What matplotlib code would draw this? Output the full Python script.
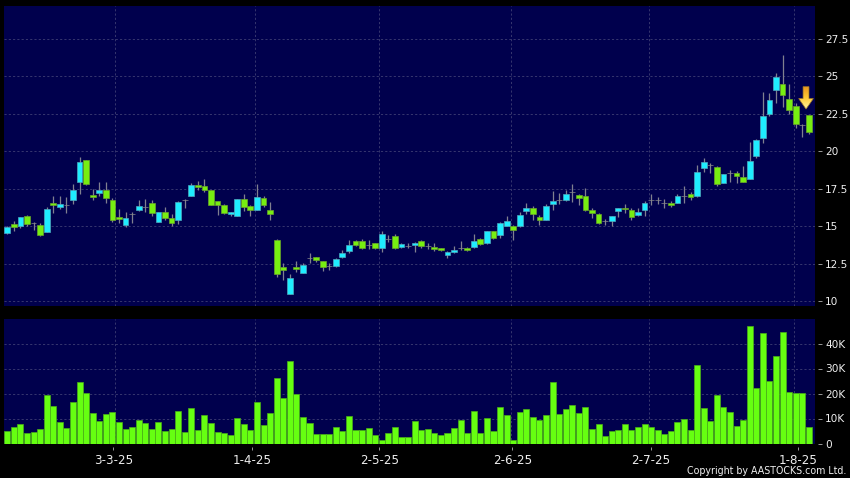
import matplotlib
matplotlib.use("Agg")
import matplotlib.pyplot as plt
from matplotlib.colors import LinearSegmentedColormap
from matplotlib.patches import Polygon
import numpy as np

open_ = [14.51,15.13,15.00,15.67,15.20,15.04,14.60,16.51,16.27,16.40,
         16.71,17.93,19.40,17.07,17.20,17.40,16.73,15.58,15.04,15.82,
         16.07,16.27,16.51,15.27,15.91,15.53,15.40,16.71,17.00,17.71,
         17.64,17.40,16.64,16.40,15.80,15.67,16.78,16.31,16.07,16.87,
         16.07,14.09,12.27,10.44,12.27,11.84,12.84,12.93,12.67,12.31,
         12.31,12.91,13.31,13.98,13.98,13.76,13.84,13.53,14.16,14.33,
         13.60,13.69,13.73,14.00,13.67,13.60,13.53,13.04,13.24,13.56,
         13.53,13.58,14.13,13.84,14.64,14.38,15.02,15.00,14.98,15.98,
         16.20,15.60,15.40,16.50,16.76,16.72,17.29,17.05,16.98,16.06,
         15.79,15.37,15.33,15.99,16.23,16.10,15.73,16.10,16.72,16.72,
         16.56,16.56,16.56,17.03,17.11,16.98,18.90,19.05,18.94,17.89,
         18.52,18.55,18.30,18.17,19.69,20.88,22.47,24.05,24.49,23.50,
         22.97,21.74,22.40]
close = [14.93,14.93,15.58,15.13,15.20,14.38,16.13,16.38,16.44,16.40,
         17.40,19.27,17.80,16.91,17.40,16.84,15.40,15.44,15.53,15.82,
         16.33,16.27,15.87,15.91,15.53,15.18,16.60,16.71,17.73,17.60,
         17.42,16.40,16.40,15.87,15.91,16.80,16.27,16.07,16.91,16.38,
         15.78,11.80,12.04,11.53,12.11,12.40,12.84,12.76,12.24,12.31,
         12.80,13.20,13.73,13.71,13.53,13.76,13.53,14.47,14.16,13.56,
         13.80,13.69,13.87,13.64,13.67,13.47,13.40,13.27,13.42,13.56,
         13.38,14.00,13.78,14.67,14.18,15.20,15.36,14.71,15.73,16.22,
         15.78,15.38,16.36,16.65,16.76,17.11,17.29,16.85,16.06,15.86,
         15.20,15.37,15.64,16.19,16.12,15.59,15.93,16.56,16.72,16.72,
         16.56,16.43,17.03,17.03,16.92,18.63,19.30,19.05,17.78,18.44,
         18.52,18.35,17.95,19.36,20.75,22.31,23.39,24.91,23.72,22.73,
         21.81,21.74,21.26]
high = [15.02,15.33,15.60,15.73,15.24,15.20,16.27,17.02,17.02,16.93,
        17.80,19.60,19.40,17.47,17.93,17.96,16.87,16.13,15.91,15.91,
        16.76,16.82,16.73,15.91,16.27,15.82,16.67,16.80,17.87,18.02,
        18.13,17.40,16.69,16.47,15.96,16.80,17.13,16.40,17.80,17.00,
        16.62,14.13,12.53,11.82,12.67,12.51,13.20,12.93,12.67,12.53,
        12.84,13.42,14.09,14.04,14.13,14.09,13.87,14.69,14.38,14.49,
        13.87,13.84,13.93,14.04,13.87,13.89,13.56,13.33,13.67,14.02,
        13.60,14.47,14.20,14.69,14.69,15.24,15.69,15.04,15.93,16.56,
        16.33,15.73,16.49,17.33,17.18,17.40,17.80,17.11,17.51,16.23,
        15.86,15.46,15.68,16.23,16.48,16.20,16.23,16.65,17.11,16.96,
        16.78,16.65,17.16,17.67,17.27,19.05,19.52,19.18,18.99,18.50,
        18.72,18.68,19.03,20.57,20.81,23.94,23.90,25.18,26.37,24.45,
        23.22,21.80,22.42]
low = [14.49,14.69,14.84,14.98,14.76,14.31,14.58,15.87,16.13,15.87,
       16.44,17.11,17.71,16.71,16.98,16.51,15.24,15.20,14.91,15.18,
       16.02,15.96,15.64,15.24,15.38,14.98,15.11,16.22,16.98,17.38,
       17.24,16.38,15.76,15.82,15.64,15.64,15.98,15.64,16.07,16.27,
       15.38,11.58,11.38,10.44,11.91,11.84,12.53,12.58,12.02,12.09,
       12.27,12.89,13.20,13.69,13.49,13.49,13.47,13.24,13.96,13.49,
       13.56,13.51,13.29,13.51,13.49,13.36,13.33,12.84,13.22,13.40,
       13.31,13.53,13.73,13.82,14.11,14.22,15.00,14.09,14.96,15.78,
       15.42,15.09,15.38,16.08,16.50,16.70,16.63,16.41,16.01,15.55,
       15.15,15.09,14.98,15.62,15.84,15.40,15.64,15.68,16.41,16.48,
       16.17,16.26,16.52,16.56,16.76,16.96,18.59,18.55,17.69,17.84,
       17.97,17.84,17.91,18.15,19.54,20.53,22.31,23.17,22.97,22.49,
       21.52,20.93,21.12]
# volume in thousands
volume = [5.2,6.8,8.0,4.1,4.5,5.7,19.6,15.1,8.7,6.4,
          16.7,24.5,20.1,12.1,9.1,12.0,12.8,8.5,5.9,6.7,
          9.5,8.1,6.0,8.7,4.9,5.7,12.9,4.5,14.4,5.5,
          11.5,8.4,4.8,4.4,3.6,10.4,7.7,5.3,16.8,7.3,
          12.1,26.4,18.1,33.1,20.0,10.7,8.1,3.7,4.0,3.9,
          6.8,5.2,11.2,5.3,5.3,6.1,3.6,1.6,4.1,6.5,
          2.7,2.5,8.9,5.6,5.9,4.3,3.6,4.1,6.1,9.6,
          4.1,13.2,4.1,10.1,5.1,14.7,11.6,1.6,12.8,13.9,
          10.8,9.3,11.6,24.7,12.0,13.7,15.3,12.1,14.7,5.7,
          7.9,3.2,5.1,5.6,8.0,5.6,6.8,7.9,6.5,5.3,
          4.0,5.2,8.5,9.9,5.6,31.5,14.4,8.9,19.6,14.8,
          12.5,7.1,9.3,47.2,22.3,44.4,25.1,35.2,44.5,20.7,
          20.3,20.3,6.7]

date_labels = ["3-3-25", "1-4-25", "2-5-25", "2-6-25", "2-7-25", "1-8-25"]
date_ticks = [16.13, 37.29, 56.6, 76.85, 98.0, 120.4]
date_grid = [16.47, 37.63, 56.62, 76.7, 97.7, 119.8]
price_ticks = [10, 12.5, 15, 17.5, 20, 22.5, 25, 27.5]
price_labels = ["10", "12.5", "15", "17.5", "20", "22.5", "25", "27.5"]
vol_ticks = [0, 10, 20, 30, 40]
vol_labels = ["0", "10K", "20K", "30K", "40K"]

W, H = 850, 478
BG = "#00004d"
GRID = "#36366f"
DASH = (0, (2.2, 2.2))
CYAN = "#1fecff"
GREEN = "#77ee11"

fig = plt.figure(figsize=(W / 100, H / 100), dpi=100, facecolor="black")
ax1 = fig.add_axes([4 / W, 1 - 306 / H, 810.5 / W, 300 / H])
ax2 = fig.add_axes([4 / W, 1 - 443.5 / H, 810.5 / W, 124.5 / H])

for ax in (ax1, ax2):
    ax.set_facecolor(BG)
    ax.set_xlim(-0.5, 122.86)
    for s in ["top", "left", "bottom"]:
        ax.spines[s].set_visible(False)
    ax.spines["right"].set_position(("outward", 2.2))
    ax.spines["right"].set_visible(False)
    ax.yaxis.tick_right()
    ax.tick_params(axis="y", length=3, width=0.7, color="#999999", labelcolor="#eeeeee", labelsize=7.6, pad=2.5)
    for gx in date_grid:
        ax.axvline(gx, color=GRID, lw=0.7, ls=DASH, zorder=1)
    ax.set_axisbelow(True)

o = np.array(open_)
c = np.array(close)
x = np.arange(len(o))
colors = [CYAN if b > a else GREEN if b < a else "#888888" for a, b in zip(o, c)]
edges = ["#4fa9bd" if b > a else "#6aa52a" if b < a else "#8a8a8a" for a, b in zip(o, c)]

ax1.set_ylim(9.67, 29.67)
ax1.set_yticks(price_ticks)
ax1.set_yticklabels(price_labels)
ax1.set_xticks([])
ax1.grid(axis="y", color=GRID, lw=0.7, ls=DASH)
ax1.vlines(x, low, high, color="#80808f", lw=0.9, zorder=2)
ax1.bar(x, np.abs(c - o), bottom=np.minimum(o, c), width=0.88, color=colors,
        edgecolor=edges, linewidth=0.5, zorder=3)

# sell signal arrow, orange on top fading to pale yellow at the tip
ax_x, tip, neck, top = 121.57, 22.8, 23.5, 24.29
arrow = Polygon([(ax_x - 0.45, top), (ax_x + 0.45, top), (ax_x + 0.45, neck), (ax_x + 1.12, neck),
                 (ax_x, tip), (ax_x - 1.12, neck), (ax_x - 0.45, neck)],
                closed=True, facecolor="none", edgecolor="#a07a28", linewidth=0.5, zorder=6)
ax1.add_patch(arrow)
cmap = LinearSegmentedColormap.from_list("arrow", ["#e8951f", "#ffc933", "#fff4a0"])
img = ax1.imshow(np.linspace(0, 1, 32).reshape(-1, 1), cmap=cmap, aspect="auto",
                 extent=(ax_x - 1.2, ax_x + 1.2, tip, top), origin="upper", zorder=5)
img.set_clip_path(arrow)
ax1.set_xlim(-0.5, 122.86)
ax1.set_ylim(9.67, 29.67)

ax2.set_ylim(0, 49.8)
ax2.set_yticks(vol_ticks)
ax2.set_yticklabels(vol_labels)
ax2.grid(axis="y", color=GRID, lw=0.7, ls=DASH)
ax2.bar(x, volume, width=0.92, color="#66ff11", edgecolor="#4aaf18", linewidth=0.5, zorder=3)
ax2.spines["bottom"].set_position(("outward", 2.5))
ax2.spines["bottom"].set_visible(False)
ax2.set_xticks(date_ticks)
ax2.set_xticklabels(date_labels)
ax2.tick_params(axis="x", length=2.2, width=0.7, color="#999999", labelcolor="#eeeeee", labelsize=8.6, pad=3.2)

fig.text(846 / W, 1 - 471 / H, "Copyright by AASTOCKS.com Ltd.", color="#eeeeee", fontsize=6.85,
         ha="right", va="center")

fig.savefig("out.png", dpi=100, facecolor="black")
